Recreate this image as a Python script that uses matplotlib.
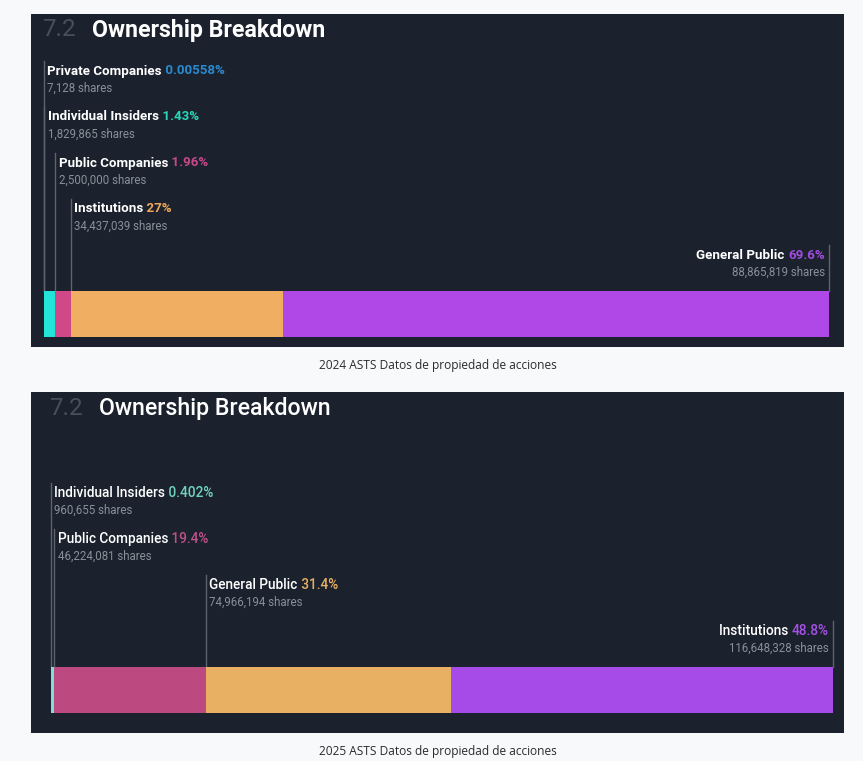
import matplotlib
matplotlib.use("Agg")
import matplotlib.pyplot as plt
import numpy as np

plt.rcParams['font.family'] = ['Roboto', 'DejaVu Sans']

# 2024 data
cats_2024 = ["Private Companies", "Individual Insiders", "Public Companies", "Institutions", "General Public"]
pct_2024 = [0.00558, 1.43, 1.96, 27, 69.6]
shares_2024 = [7128, 1829865, 2500000, 34437039, 88865819]
cols_2024 = ["#2394df", "#22e4d8", "#d04888", "#f0ae62", "#b048e8"]
txtcols_2024 = ["#2a8ad0", "#2ad6b8", "#c8488a", "#f0a65a", "#a24ce0"]

# 2025 data
cats_2025 = ["Individual Insiders", "Public Companies", "General Public", "Institutions"]
pct_2025 = [0.402, 19.4, 31.4, 48.8]
shares_2025 = [960655, 46224081, 74966194, 116648328]
cols_2025 = ["#7ce0d8", "#bc4a80", "#e8b062", "#a64be8"]
txtcols_2025 = ["#6fd4c0", "#c0508a", "#e8b062", "#a650e8"]

captions = ["2024 ASTS Datos de propiedad de acciones", "2025 ASTS Datos de propiedad de acciones"]

W, H = 863, 761
BG = "#1b222d"
LINE = "#5d6470"

fig = plt.figure(figsize=(W / 100, H / 100), dpi=100)
fig.patch.set_facecolor("#f8f9fa")


def panel(top, bottom, bar_left, bar_right, bar_top, bar_h, cats, pct, shares, cols, tcols,
          weight, fs, caption_y, caption):
    px_left, px_right = 31, 844
    ax = fig.add_axes([px_left / W, 1 - bottom / H, (px_right - px_left) / W, (bottom - top) / H])
    ax.set_facecolor(BG)
    span = bar_right - bar_left
    ax.set_xlim(-(bar_left - px_left) / span * 100, 100 + (px_right - bar_right) / span * 100)
    ax.set_ylim(bottom - top, 0)
    ax.axis('off')
    ax.add_patch(plt.Rectangle((0, 0), 1, 1, transform=ax.transAxes, color=BG, zorder=0))

    starts = np.concatenate([[0], np.cumsum(pct)[:-1]])
    ax.barh(bar_top + bar_h / 2, pct, left=starts, height=bar_h, color=cols, zorder=2)

    n = len(cats)
    for i in range(n):
        yc = bar_top - 36 - 46 * (n - 1 - i)
        last = i == n - 1
        xl = starts[i] + pct[i] if last else starts[i]
        ax.plot([xl, xl], [yc - 10, bar_top], color=LINE, lw=1, zorder=1)
        if not last:
            t = ax.annotate(cats[i], xy=(xl, yc), xytext=(2.5, 0), textcoords='offset points',
                            color="white", fontsize=fs, fontweight=weight, va='center', ha='left')
            ax.annotate(" " + f"{pct[i]:g}%", xy=(1, 0), xycoords=t, color=tcols[i],
                        fontsize=fs, fontweight=weight, va='bottom', ha='left')
            ax.annotate(f"{shares[i]:,} shares", xy=(xl, yc + 17), xytext=(2.5, 0),
                        textcoords='offset points', color="#8a9099", fontsize=8.3,
                        va='center', ha='left')
        else:
            p = ax.annotate(f"{pct[i]:g}%", xy=(xl, yc), xytext=(-3, 0), textcoords='offset points',
                            color=tcols[i], fontsize=fs, fontweight=weight, va='center', ha='right')
            ax.annotate(cats[i] + " ", xy=(0, 0), xycoords=p, color="white",
                        fontsize=fs, fontweight=weight, va='bottom', ha='right')
            ax.annotate(f"{shares[i]:,} shares", xy=(xl, yc + 17), xytext=(-3, 0),
                        textcoords='offset points', color="#8a9099", fontsize=8.3,
                        va='center', ha='right')

    # title
    t72 = ax.annotate("7.2", xy=(0, 16), xytext=(-1, 0), textcoords='offset points',
                      color="#4a505b", fontsize=17.5, va='center', ha='left')
    ax.annotate("Ownership Breakdown", xy=(1, 0), xycoords=t72, xytext=(11, 0),
                textcoords='offset points', color="white", fontsize=16.7,
                fontweight=weight, va='bottom', ha='left')

    fig.text((px_left + px_right) / 2 / W, 1 - caption_y / H, caption, ha='center', va='center',
             fontsize=8.6, color="#2b2b2b", family=['Open Sans', 'DejaVu Sans'])


panel(14, 347, 44, 829, 277, 46, cats_2024, pct_2024, shares_2024, cols_2024, txtcols_2024,
      'bold', 9.6, 366, captions[0])
panel(392, 733, 51, 833, 275, 46, cats_2025, pct_2025, shares_2025, cols_2025, txtcols_2025,
      'medium', 9.8, 752, captions[1])

fig.savefig("out.png", dpi=100, facecolor=fig.get_facecolor())
